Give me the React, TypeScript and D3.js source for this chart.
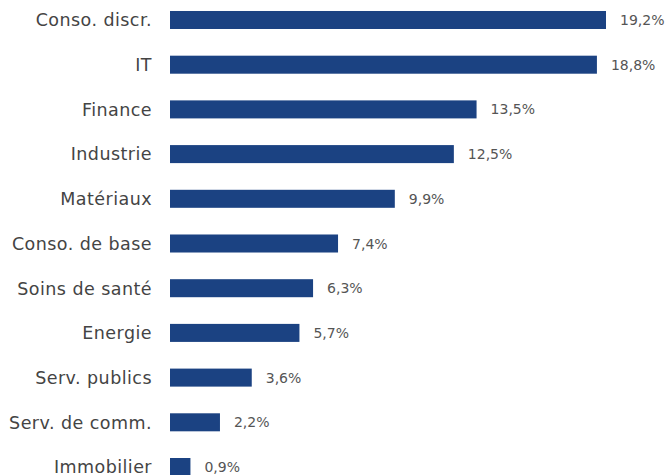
import { useEffect, useRef } from 'react';
import * as d3 from 'd3';

const categories = [
  'Conso. discr.',
  'IT',
  'Finance',
  'Industrie',
  'Matériaux',
  'Conso. de base',
  'Soins de santé',
  'Energie',
  'Serv. publics',
  'Serv. de comm.',
  'Immobilier',
];
const weights = [19.2, 18.8, 13.5, 12.5, 9.9, 7.4, 6.3, 5.7, 3.6, 2.2, 0.9];

const WIDTH = 666;
const HEIGHT = 475;
const BAR_COLOR = '#1b4282';
const FONT = '"DejaVu Sans", "Noto Sans", sans-serif';

export default function App() {
  const svgRef = useRef<SVGSVGElement>(null);

  useEffect(() => {
    if (!svgRef.current) return;
    const svg = d3.select(svgRef.current);
    svg.selectAll('*').remove();

    const x = d3.scaleLinear().domain([0, 19.2]).range([170, 606]);
    const y = d3
      .scaleBand<string>()
      .domain(categories)
      .range([-15.7, 502.7])
      .padding(0.597);

    const rows = svg
      .selectAll('g.row')
      .data(categories)
      .join('g')
      .attr('class', 'row');

    rows
      .append('rect')
      .attr('x', x(0))
      .attr('y', (d) => y(d)!)
      .attr('width', (_, i) => x(weights[i]) - x(0))
      .attr('height', y.bandwidth())
      .attr('fill', BAR_COLOR);

    // category labels
    rows
      .append('text')
      .attr('x', 152)
      .attr('y', (d) => y(d)! + y.bandwidth() / 2)
      .attr('dy', '0.36em')
      .attr('text-anchor', 'end')
      .attr('font-family', FONT)
      .attr('font-size', 17.5)
      .attr('letter-spacing', 0.45)
      .attr('fill', '#444')
      .text((d) => d);

    // value labels
    rows
      .append('text')
      .attr('x', (_, i) => x(weights[i]) + 14)
      .attr('y', (d) => y(d)! + y.bandwidth() / 2)
      .attr('dy', '0.36em')
      .attr('font-family', FONT)
      .attr('font-size', 14)
      .attr('fill', '#555')
      .text((_, i) => d3.format('.1f')(weights[i]).replace('.', ',') + '%');
  }, []);

  return (
    <div style={{ position: 'fixed', left: 0, top: 0, width: WIDTH, height: HEIGHT, background: '#fff' }}>
      <svg ref={svgRef} width={WIDTH} height={HEIGHT} />
    </div>
  );
}
